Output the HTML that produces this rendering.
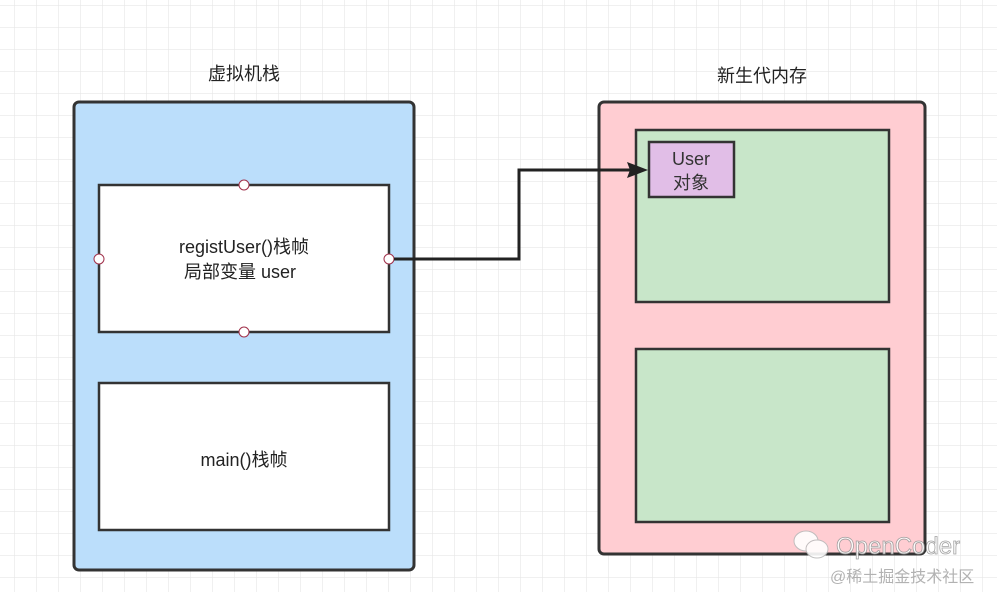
<!DOCTYPE html>
<html><head><meta charset="utf-8"><style>
html,body{margin:0;padding:0;background:#fff;}
svg{display:block;}
text{font-family:"Liberation Sans","Noto Sans CJK SC",sans-serif;}
</style></head><body>
<svg width="997" height="592" viewBox="0 0 997 592" xmlns="http://www.w3.org/2000/svg">
<defs>
<pattern id="g" x="14" y="5" width="22" height="22" patternUnits="userSpaceOnUse">
<path d="M0 0H22M0 0V22" stroke="#e6e6e6" stroke-width="1.2" fill="none"/>
</pattern>
</defs>
<rect width="997" height="592" fill="url(#g)"/>
<text x="244" y="80" font-size="18" text-anchor="middle" fill="#222">虚拟机栈</text>
<text x="762" y="82" font-size="18" text-anchor="middle" fill="#222">新生代内存</text>
<rect x="74" y="102" width="340" height="468" rx="5" fill="#bbdefb" stroke="#333" stroke-width="3"/>
<rect x="99" y="185" width="290" height="147" fill="#fff" stroke="#333" stroke-width="2.5"/>
<text x="244" y="253" font-size="18" text-anchor="middle" fill="#222">registUser()栈帧</text>
<text x="240" y="278" font-size="18" text-anchor="middle" fill="#222">局部变量 user</text>
<rect x="99" y="383" width="290" height="147" fill="#fff" stroke="#333" stroke-width="2.5"/>
<text x="244" y="466" font-size="18" text-anchor="middle" fill="#222">main()栈帧</text>
<g fill="#fff" stroke="#a0304a" stroke-width="1">
<circle cx="244" cy="185" r="5"/><circle cx="244" cy="332" r="5"/>
<circle cx="99" cy="259" r="5"/><circle cx="389" cy="259" r="5"/>
</g>
<rect x="599" y="102" width="326" height="452" rx="5" fill="#ffcdd2" stroke="#333" stroke-width="3"/>
<rect x="636" y="130" width="253" height="172" fill="#c8e6c9" stroke="#333" stroke-width="2.5"/>
<rect x="636" y="349" width="253" height="173" fill="#c8e6c9" stroke="#333" stroke-width="2.5"/>
<rect x="649" y="142" width="85" height="55" fill="#e1bee7" stroke="#333" stroke-width="2.5"/>
<text x="691" y="165" font-size="18" text-anchor="middle" fill="#333">User</text>
<text x="691" y="189" font-size="18" text-anchor="middle" fill="#333">对象</text>
<path d="M394 259H519V170H630" fill="none" stroke="#222" stroke-width="3"/>
<path d="M648 170L627 162L630 170L627 178Z" fill="#222"/>
<g opacity="0.9">
<ellipse cx="806" cy="541" rx="12" ry="10" fill="#fff" stroke="#bbb"/>
<ellipse cx="817" cy="549" rx="11" ry="9" fill="#fff" stroke="#bbb"/>
<text x="836" y="554" font-size="24" fill="#fff" stroke="#999" stroke-width="0.8">OpenCoder</text>
<text x="830" y="582" font-size="16" fill="#aaa">@稀土掘金技术社区</text>
</g>
</svg>
</body></html>
